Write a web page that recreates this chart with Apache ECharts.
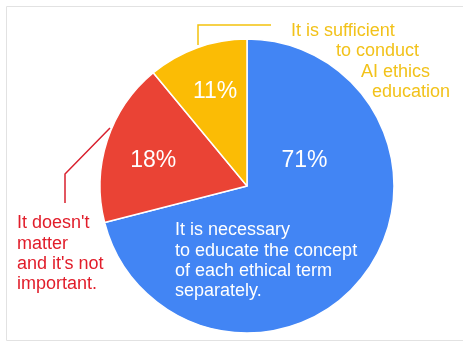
<!DOCTYPE html>
<html>
<head>
<meta charset="utf-8">
<script src="https://cdn.jsdelivr.net/npm/echarts@6/dist/echarts.min.js"></script>
<style>html,body{margin:0;padding:0;background:#fff;}#c{width:463px;height:342px;}</style>
</head>
<body>
<div id="c"></div>
<script>
var categories = [
  "It is necessary to educate the concept of each ethical term separately.",
  "It doesn't matter and it's not important.",
  "It is sufficient to conduct AI ethics education"
];
var values = [71, 18, 11];
var sliceColors = ['#4285F4', '#EA4335', '#FBBC05'];
var labelOffsets = [[-3, -72], [-21, -2], [-6, -22]];

var FONT = "'Liberation Sans', Arial, sans-serif";
var chart = echarts.init(document.getElementById('c'));

var data = categories.map(function (name, i) {
  return {
    name: name,
    value: values[i],
    itemStyle: { color: sliceColors[i] },
    label: { offset: labelOffsets[i] }
  };
});

function txt(x, y, text, color, lh) {
  return {
    type: 'text', left: x, top: y, z: 100,
    style: { text: text, fill: color, font: '18px ' + FONT, lineHeight: lh || 20.4, textVerticalAlign: 'top' }
  };
}

chart.setOption({
  animation: false,
  backgroundColor: '#fff',
  graphic: [
    { type: 'rect', shape: { x: 6.5, y: 6.5, width: 470, height: 334 }, style: { fill: 'none', stroke: '#e2e2e2', lineWidth: 1 } },
    { type: 'polyline', shape: { points: [[198, 45], [198, 25], [271, 25]] }, style: { stroke: '#F4C20D', lineWidth: 1.5, fill: 'none' } },
    { type: 'polyline', shape: { points: [[110, 128], [65, 174], [65, 203]] }, style: { stroke: '#D9202E', lineWidth: 1.5, fill: 'none' } },
    txt(291, 21, 'It is sufficient', '#F2C21A'),
    txt(336, 41, 'to conduct', '#F2C21A'),
    txt(361, 62, 'AI ethics', '#F2C21A'),
    txt(372, 82, 'education', '#F2C21A'),
    txt(17, 213, "It doesn't\nmatter\nand it's not\nimportant.", '#E11D2A'),
    txt(175, 220, 'It is necessary\nto educate the concept\nof each ethical term\nseparately.', '#ffffff')
  ],
  series: [{
    type: 'pie',
    center: [247, 186],
    radius: [0, 147],
    startAngle: 90,
    clockwise: true,
    z: 2,
    data: data,
    itemStyle: { borderColor: '#fff', borderWidth: 1.5 },
    label: {
      show: true,
      position: 'inside',
      formatter: function (p) { return p.value + '%'; },
      color: '#fff',
      fontSize: 23,
      fontFamily: FONT
    },
    labelLine: { show: false },
    emphasis: { disabled: true }
  }]
});
</script>
</body>
</html>
